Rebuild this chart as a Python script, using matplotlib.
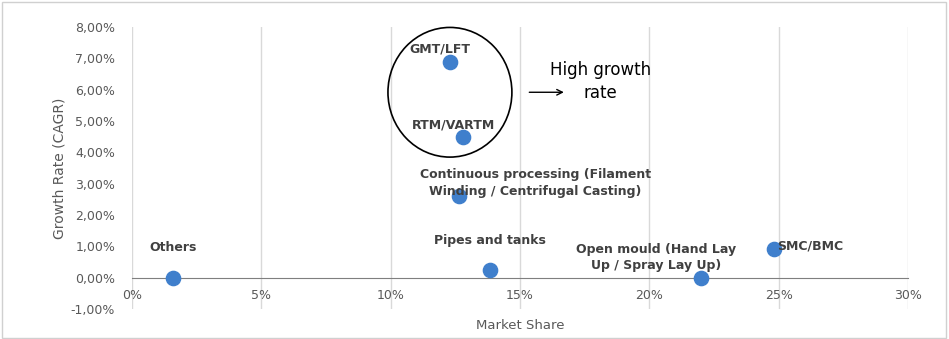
import matplotlib
matplotlib.use("Agg")
import matplotlib.pyplot as plt
from matplotlib.patches import Ellipse, Rectangle
from matplotlib.ticker import FuncFormatter

# market share (%) vs growth rate (CAGR, %)
names = ["Others", "GMT/LFT", "RTM/VARTM",
         "Continuous processing (Filament\nWinding / Centrifugal Casting)",
         "Pipes and tanks", "Open mould (Hand Lay\nUp / Spray Lay Up)", "SMC/BMC"]
share = [1.6, 12.3, 12.8, 12.65, 13.85, 22.0, 24.8]
cagr = [0.0, 6.9, 4.5, 2.6, 0.25, 0.0, 0.92]
# label offsets in pixels (dx, dy) and horizontal alignment
offsets = [(0, 30, "center"), (-10, 13, "center"), (-10, 12, "center"),
           (76, 13, "center"), (0, 29, "center"), (-45, 20, "center"), (3, 3, "left")]

BLUE = "#3f7fcc"
GREY = "#595959"

fig = plt.figure(figsize=(9.49, 3.39), dpi=100)
ax = fig.add_axes([0.139, 0.0885, 0.818, 0.8315])
ax.set_xlim(0, 30); ax.set_ylim(-1, 8)

ax.scatter(share, cagr, s=105, color=BLUE, zorder=3, clip_on=False)
for n, x, y, (dx, dy, ha) in zip(names, share, cagr, offsets):
    ax.annotate(n, (x, y), xytext=(dx, dy), textcoords="offset pixels",
                ha=ha, va="center", fontsize=9, fontweight="bold",
                color="#404040", linespacing=1.35, zorder=4)

# axes styling, Excel-like
ax.set_xticks(range(0, 31, 5))
ax.set_yticks(range(-1, 9))
ax.xaxis.set_major_formatter(FuncFormatter(lambda v, _: f"{v:.0f}%"))
ax.yaxis.set_major_formatter(FuncFormatter(lambda v, _: f"{v:.2f}%".replace(".", ",")))
ax.tick_params(length=0, labelsize=9, labelcolor=GREY)
ax.tick_params(axis="x", pad=8)
ax.tick_params(axis="y", pad=12)
ax.grid(axis="x", color="#d9d9d9", lw=1)
ax.set_axisbelow(True)
for s in ["top", "right", "left"]:
    ax.spines[s].set_visible(False)
ax.spines["bottom"].set_position(("data", 0))
ax.spines["bottom"].set_color("#7f7f7f")
ax.set_xlabel("Market Share", fontsize=9.5, color=GREY)
ax.set_ylabel("Growth Rate (CAGR)", fontsize=10, color=GREY, labelpad=3)
ax.xaxis.set_label_coords(0.5, -0.035)

# high growth highlight
ax.add_patch(Ellipse((12.29, 5.92), 4.79, 4.14, fill=False, ec="black", lw=1.2,
                     clip_on=False, zorder=2))
ax.annotate("", xy=(16.8, 5.92), xytext=(15.25, 5.92),
            arrowprops=dict(arrowstyle="->", color="black", lw=1))
ax.text(18.1, 6.27, "High growth\nrate", ha="center", va="center", fontsize=12,
        linespacing=1.4)

fig.patches.append(Rectangle((0.002, 0.004), 0.995, 0.99, transform=fig.transFigure,
                             fill=False, ec="#d0d0d0", lw=1))
fig.savefig("out.png", dpi=100)
